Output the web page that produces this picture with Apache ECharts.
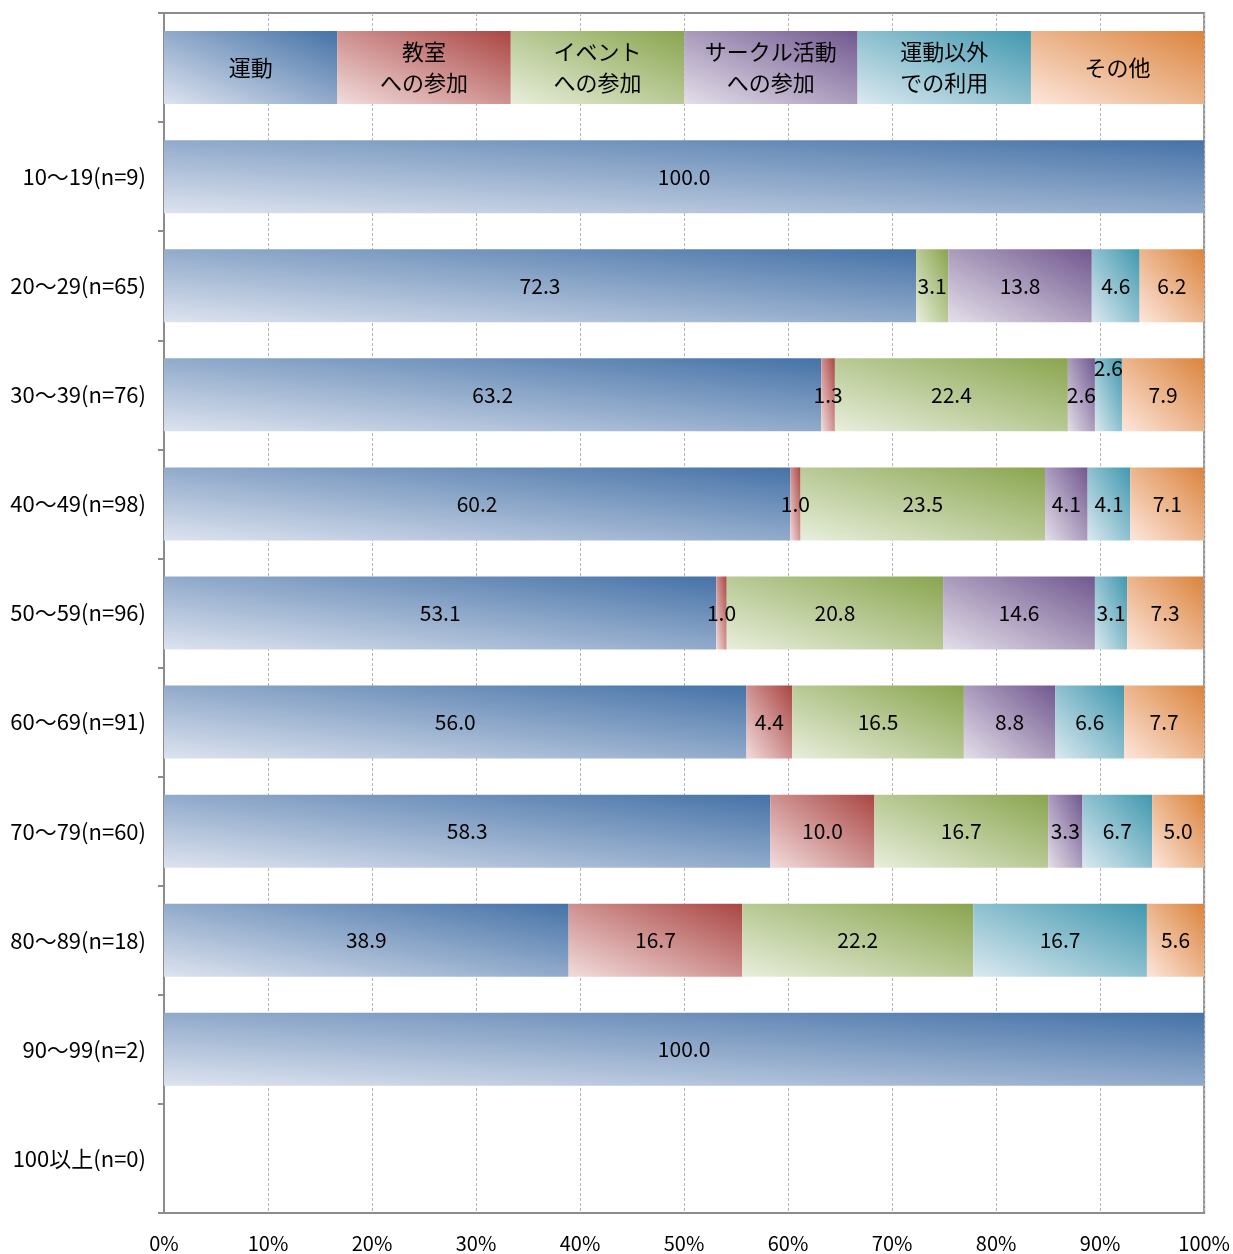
<!DOCTYPE html>
<html>
<head>
<meta charset="utf-8">
<script src="https://cdn.jsdelivr.net/npm/echarts@6/dist/echarts.min.js"></script>
<style>html,body{margin:0;padding:0;background:#fff}#c{width:1233px;height:1254px}</style>
</head>
<body>
<div id="c"></div>
<script>
const categories = ['', '10〜19(n=9)', '20〜29(n=65)', '30〜39(n=76)', '40〜49(n=98)', '50〜59(n=96)', '60〜69(n=91)', '70〜79(n=60)', '80〜89(n=18)', '90〜99(n=2)', '100以上(n=0)'];
const seriesNames = ['運動', '教室への参加', 'イベントへの参加', 'サークル活動への参加', '運動以外での利用', 'その他'];
const headerLabels = ['運動', '教室\nへの参加', 'イベント\nへの参加', 'サークル活動\nへの参加', '運動以外\nでの利用', 'その他'];
const headerShare = [16.67, 16.67, 16.67, 16.67, 16.67, 16.65];
const undou      = [100, 72.3, 63.2, 60.2, 53.1, 56.0, 58.3, 38.9, 100, null];
const kyoushitsu = [null, null, 1.3, 1.0, 1.0, 4.4, 10.0, 16.7, null, null];
const event      = [null, 3.1, 22.4, 23.5, 20.8, 16.5, 16.7, 22.2, null, null];
const circle     = [null, 13.8, 2.6, 4.1, 14.6, 8.8, 3.3, null, null, null];
const igai       = [null, 4.6, 2.6, 4.1, 3.1, 6.6, 6.7, 16.7, null, null];
const sonota     = [null, 6.2, 7.9, 7.1, 7.3, 7.7, 5.0, 5.6, null, null];

const values = [undou, kyoushitsu, event, circle, igai, sonota];
const darkColors  = ['#4572a7', '#aa4643', '#89a54e', '#71588f', '#4198af', '#db843d'];
const lightColors = ['#dde3ef', '#f2dcdc', '#e8eedc', '#e4dfea', '#dbe9f0', '#fde6dc'];

const numFont = '"Noto Sans CJK JP", sans-serif';
const cjkFont = '"Noto Sans CJK JP", sans-serif';

const GRID = { left: 164, right: 27, top: 13, bottom: 41 };
const PLOT_W = 1233 - GRID.left - GRID.right;
const BAR_H = 73;

// Excel-style diagonal gradient: light bottom-left -> dark top-right,
// isolines parallel to the rect's top-left/bottom-right diagonal.
function diagGradient(val, i) {
  const w = Math.max(1, val / 100 * PLOT_W), h = BAR_H;
  const L2 = w * w + h * h;
  const x2 = 2 * h * h / L2;
  const y2 = 1 - 2 * w * w / L2;
  return new echarts.graphic.LinearGradient(0, 1, x2, y2, [
    { offset: 0, color: lightColors[i] },
    { offset: 1, color: darkColors[i] }
  ]);
}

const series = values.map((vals, i) => {
  const data = [{
    value: headerShare[i],
    itemStyle: { color: diagGradient(headerShare[i], i) },
    label: { formatter: headerLabels[i], fontFamily: cjkFont, fontSize: 22, lineHeight: 31 }
  }];
  vals.forEach((v, j) => {
    const item = { value: v };
    if (v != null) item.itemStyle = { color: diagGradient(v, i) };
    // 30〜39 の「運動以外での利用」ラベルは上にずらす
    if (i === 4 && j === 2) item.label = { offset: [0, -27] };
    data.push(item);
  });
  return {
    name: seriesNames[i],
    type: 'bar',
    stack: 'total',
    barWidth: BAR_H,
    itemStyle: { color: darkColors[i] },
    label: {
      show: true,
      position: 'inside',
      color: '#000',
      fontFamily: numFont,
      fontSize: 21,
      formatter: p => (p.value == null ? '' : Number(p.value).toFixed(1))
    },
    emphasis: { disabled: true },
    data
  };
});

const chart = echarts.init(document.getElementById('c'), null, { renderer: 'canvas' });
chart.setOption({
  animation: false,
  backgroundColor: '#fff',
  grid: { left: GRID.left, right: GRID.right, top: GRID.top, bottom: GRID.bottom, show: true, borderColor: '#8c8c8c', borderWidth: 2, containLabel: false },
  xAxis: {
    type: 'value', min: 0, max: 100, interval: 10,
    axisLine: { show: true, lineStyle: { color: '#8c8c8c', width: 2 } },
    axisTick: { show: false },
    splitLine: { show: true, lineStyle: { color: '#b4b4b4', type: [3, 2], width: 1 } },
    axisLabel: { formatter: v => v + '%', color: '#000', fontFamily: numFont, fontSize: 20, margin: 20 }
  },
  yAxis: {
    type: 'category', inverse: true, data: categories,
    axisLine: { show: true, lineStyle: { color: '#8c8c8c', width: 2 } },
    axisTick: { show: true, alignWithLabel: false, length: 6, lineStyle: { color: '#8c8c8c', width: 2 } },
    axisLabel: { color: '#000', fontFamily: numFont, fontSize: 22, margin: 18 }
  },
  series
});
</script>
</body>
</html>
